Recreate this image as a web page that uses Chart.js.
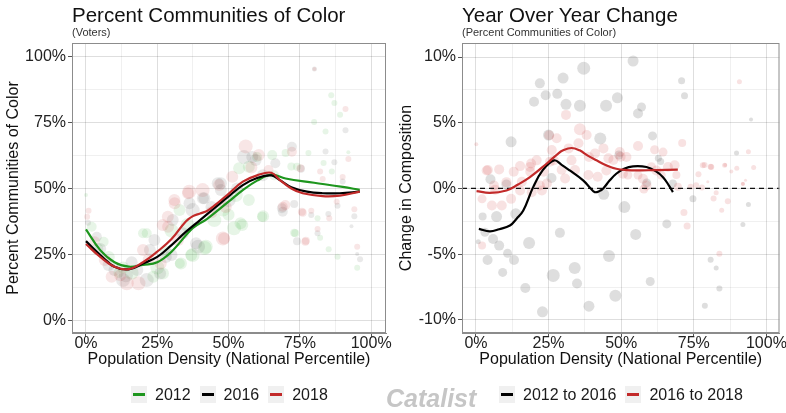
<!DOCTYPE html>
<html>
<head>
<meta charset="utf-8">
<script src="https://cdn.jsdelivr.net/npm/chart.js@4.4.1/dist/chart.umd.min.js"></script>
<style>
  body { margin: 0; background: #fff; font-family: "Liberation Sans", Arial, sans-serif; color: #111; }
  #wrap { position: relative; width: 786px; height: 413px; overflow: hidden; }
  canvas { position: absolute; top: 0; }
  #leftChart { left: 0; }
  #rightChart { left: 393px; }
  .title { position: absolute; top: 3px; font-size: 20.5px; line-height: 24px; white-space: nowrap; }
  .subtitle { position: absolute; top: 26px; font-size: 11px; line-height: 13px; color: #333; white-space: nowrap; }
  .legend { position: absolute; top: 386px; display: flex; align-items: center; font-size: 16px; line-height: 17px; color: #1a1a1a; }
  .item { display: flex; align-items: center; margin-right: 9px; }
  .key { width: 16px; height: 17px; background: #f0f0f0; position: relative; margin-right: 8px; }
  .key::after { content: ''; position: absolute; left: 2px; right: 2px; top: 7px; height: 3px; background: var(--c); }
  #logo { position: absolute; left: 386px; top: 384px; font-size: 25px; line-height: 28px; font-weight: bold; font-style: italic; color: #c6c6c6; }
</style>
</head>
<body>
<div id="wrap">
  <canvas id="leftChart" width="393" height="413"></canvas>
  <canvas id="rightChart" width="393" height="413"></canvas>
  <div class="title" style="left:72px">Percent Communities of Color</div>
  <div class="subtitle" style="left:72px">(Voters)</div>
  <div class="title" style="left:462px">Year Over Year Change</div>
  <div class="subtitle" style="left:462px">(Percent Communities of Color)</div>
  <div class="legend" style="left:131px">
    <div class="item"><span class="key" style="--c:#1e961e"></span>2012</div>
    <div class="item"><span class="key" style="--c:#000"></span>2016</div>
    <div class="item"><span class="key" style="--c:#c22a2a"></span>2018</div>
  </div>
  <div id="logo">Catalist</div>
  <div class="legend" style="left:499px">
    <div class="item"><span class="key" style="--c:#000"></span>2012 to 2016</div>
    <div class="item"><span class="key" style="--c:#c22a2a"></span>2016 to 2018</div>
  </div>
</div>
<script>
// ---- left panel: percent communities of color, points are [density, pct, size]
const pts2012 = [[0,47.5,2],[2,35.5,5],[6.2,29.8,5],[4,27,6],[8,24,6],[11.4,17.9,5],[13,20,6],[16,18,7],[20,33,5],[21.3,33,5],
  [23.6,16.5,6],[25,20,7],[27,17.7,6],[28,26,6],[30,34,7],[32.8,41.8,6],[32.9,21.5,5],[33.3,21.5,6],[35.6,36.1,7],[36.9,24.7,6],
  [37.4,24.7,7],[41.6,27.4,7],[42,27.9,7],[45,38,7],[48,42,7],[50,40,6],[51.9,34.9,7],[52.5,47.5,7],[53.7,57.7,6],[54.2,36.8,6],
  [54.8,36.1,6],[57.1,45.6,6],[57.1,58.3,6],[60,62,5],[61.8,39.3,5],[62.1,39.5,6],[65.3,62.7,5],[66,55,5],[70,63.5,4],[72,58.4,4],
  [73,33.2,4],[73.4,33,4],[74,58.3,4],[78,63.5,3],[80,75.3,3],[81.2,38.7,3],[82.1,31.3,3],[83.3,59.7,3],[84,71.7,3],[85.1,26.9,3],
  [86,85.4,3],[86.2,56.5,3],[87.1,82.5,3],[88.2,24.1,3],[89.1,78,3],[92,63.8,2],[95.1,19.9,3]];
const pts2016 = [[0.7,37,3],[3.8,31.7,5],[5,27,6],[7.9,20.9,6],[10,19,6],[13,15.2,7],[14,17,7],[16,22,6],[18,19,6],[21.3,15.2,7],
  [22.4,26.6,6],[24,30.4,6],[26,17.7,6],[28,24,6],[30,24.7,6],[30.4,38,6],[34,33,6],[36.3,44.4,6],[37.4,41.8,7],[38.6,29.2,6],
  [39.3,27.9,7],[41,46.3,6],[41.5,46.3,6],[44,43,6],[46.2,52,6],[47.3,49.4,6],[47.3,52,6],[50,45.6,7],[53,50,6],[55.4,62,7],
  [58.3,62,6],[59.5,60.8,6],[62,55,6],[66.4,59.6,5],[68.7,42.5,5],[69,41.2,5],[72.2,65.9,5],[73,44.1,4],[74,30,4],[75.4,57.5,4],
  [79,39.9,3],[81.2,33,3],[84,64.1,3],[85,40.3,3],[87.1,60,3],[88.2,43.5,3],[90,52.7,3],[91,72.1,3],[93.1,35.7,2],[94.1,39.5,3],
  [95.1,25.1,2],[96.1,23.1,3],[80.1,95.4,2.5]];
const pts2018 = [[0.4,39.3,3],[0.9,41.6,3],[3,30,5],[6.6,22.8,6],[9,16.5,6],[12,17,6],[14.3,14,7],[18.4,14,7],[20,26.6,6],[22,23,6],
  [26.2,21.5,6],[28.8,35.5,6],[28.7,39.3,6],[26.9,36.1,6],[31,45.6,6],[31.1,44.4,6],[32.3,30.4,6],[35.8,48.2,6],[36.2,48.8,7],[40.9,49.4,7],
  [44,41,6],[46.7,51.3,6],[48,31,7],[48.4,31,6],[49,43,6],[51.3,54.5,6],[56,66,7],[58,58,6],[60.6,62.7,6],[64,57,5],
  [69,43.1,5],[69.9,43.7,5],[72.2,64,5],[75.2,57.7,4],[75.7,41.2,4],[76,40.8,4],[76.9,29.8,4],[77.1,30.2,4],[79,41.6,3],[81.2,34.6,3],
  [82.1,56.5,3],[83,53.6,3],[85.3,38.7,3],[87.9,45,3],[90,54.4,3],[91,80.2,3],[92,61.2,3],[94.1,42.1,3],[95.1,27.9,3],[80.1,95.4,2]];

const fit2012 = [[0,34.5],[5,26.6],[10,22],[15,20.3],[20,21],[25,22],[30,26],[37.5,35],[42.5,38.5],[50,45],[55,49.4],[60,53],
  [65,55.3],[70,53.8],[80,52.2],[90,50.6],[96,49.5]];
const fit2016 = [[0,30],[5,24.7],[10,20.3],[15,19.3],[20,21.5],[25,24],[30,28.5],[35,33.5],[40,38],[45,42.5],[50,47],[55,51.3],
  [60,54],[65,55],[68,53.2],[72,50.5],[77.5,48.8],[83,48.2],[89,48.2],[96,48.8]];
const fit2018 = [[0,28.9],[5,24],[10,20.3],[15,19.4],[20,22],[25,26],[30,30.8],[35,37.5],[37.5,39.5],[40,40.5],[42.5,41.5],[45,43.5],
  [50,48],[55,52.6],[60,55],[65,56],[68,53.2],[72,50],[76,48.2],[83,47.1],[89,47.3],[96,48.8]];

// ---- right panel: year over year change
const chg1216 = [[37.1,9.15,6.5],[54.1,9.7,5.5],[30,8.4,5.5],[22,8,5],[24,7.1,5],[28,7.2,5],[20,6.6,5],[31,6.4,5.5],[35.8,6.3,6],[44.8,6.3,6],
  [48.7,6.9,5.5],[55.8,5.7,5],[57,6.2,4.5],[70.8,8.2,3.5],[71.8,7.06,3.5],[12.1,3.55,5.5],[25,4.06,5.5],[42.8,3.8,6],[60.8,4.0,4.5],[49.2,2.55,4.5],
  [62.8,2.3,3.5],[63.6,2.05,3.5],[26,0.8,5],[5,0.7,5],[10.5,0.3,5],[58.8,0.42,4.5],[67.8,0.38,4],[89.7,2.7,2.5],[94.7,5.25,2],[44,-0.45,5.5],
  [51.1,-1.42,6],[28.9,-3.38,5],[55,-3.5,5.5],[18.3,-4.15,6],[13.7,-1.93,5.5],[7.1,-2.14,5.5],[2.3,-2.14,4],[3.1,-3.33,4.5],[5.9,-3.84,5],[8,-4.35,5],
  [0.8,-4.05,2.5],[10.9,-4.94,4.5],[13.1,-5.45,5],[4,-5.45,5],[9.2,-6.39,4.5],[26.6,-6.62,6.5],[34,-6.06,6],[34.8,-7.23,5],[45.8,-5.14,6],[17,-7.58,5],
  [48,-8.17,6],[38.9,-8.96,5.5],[22.9,-9.39,5.5],[60,-7.08,4.5],[65.7,-2.7,4.5],[74.7,-0.79,3.5],[80.8,-5.42,3],[82.7,-6.06,2.5],[83.8,-7.61,3],[78.8,-8.93,3],
  [91.9,-2.75,2.5],[93.8,-1.22,2.5]];
const chg1618 = [[0.1,3.36,2],[4.1,1.4,5],[8,1.45,5],[13,1.27,5],[15.2,1.7,5],[19,1.9,5],[18.7,1.27,5],[23.3,1.27,5],[25.5,2.04,5],[26.1,2.92,5],
  [27.8,3.82,5],[31,5.6,5],[35.8,4.5,6],[38.1,4.07,5],[35.3,3.44,5],[31.9,3.05,5],[41,2.67,5],[43.9,3.05,5],[45.6,2.29,5],[47.3,2.16,5],
  [34.1,1.4,5],[38.7,1.02,5],[41.9,0.89,5],[30.7,0.76,5],[24.4,0.38,5],[15.8,0.51,5],[25.2,4.05,5],[20.9,2.14,5],[26.8,2.14,5],[32.9,2.14,5],
  [38.9,2.39,5],[49.5,2.77,5],[51.8,2.39,5],[18.6,1.63,5],[29.5,1.43,5],[44.9,1.37,5],[50.6,1.12,5],[57.5,0.74,5],[62.1,1.37,5],[66.1,1.63,5],
  [68.4,1.76,5],[3.7,1.37,5],[10.5,0.48,5],[6.2,0.23,5],[22,0.23,5],[58.7,0.23,5],[55.8,3.23,5],[61.5,2.95,4.5],[64.4,2.77,4.5],[71,3.46,4],
  [60.4,1.65,4.5],[63.8,1.02,4.5],[69,1.02,4],[69.5,0.13,4],[57.8,-0.05,4.5],[49.8,2.42,5],[52.3,1.02,4.5],[55.8,1.02,4.5],[2.1,-0.79,4.5],[5.5,-1.3,5],
  [8.9,-1.3,5],[12.1,-0.79,5],[2.1,-4.35,4],[6.6,-0.1,5],[15.2,-0.15,5],[19.2,-0.28,5],[22.7,-0.15,5],[90.7,8.12,2.5],[93.8,2.8,2.5],[95.6,1.6,2.5],
  [92.8,0.63,1.5],[91.9,0.33,2],[87.9,1.3,2],[89.8,1.53,2.5],[85.8,1.78,2],[78.7,1.78,3],[80.8,1.65,3],[76.6,1.09,3],[79.8,0.51,1.5],[75.8,0.25,3],
  [77.8,0.08,3],[73.9,0.13,3],[82.7,-0.33,2.5],[81.8,-0.76,3],[86.7,-0.97,3],[84.6,-1.65,2.5],[71.6,-1.83,3.5],[72.7,-2.85,3.5],[83.8,-4.96,3],[78.1,1.76,3],
  [81,1.63,3],[85.6,1.76,2.5],[91.9,0.36,2]];

const fit1216 = [[1,-3.08],[4.8,-3.26],[8,-3.1],[11.7,-2.82],[14,-2.3],[16.3,-1.68],[19.7,0.1],[23,1.4],[26.9,2.14],[29.5,1.8],
  [32.3,1.37],[36.9,0.61],[39.5,0.0],[40.9,-0.28],[42.5,-0.2],[43.8,0.0],[46,0.6],[48.3,1.12],[51,1.5],[54.1,1.68],
  [58.7,1.63],[62,1.3],[64.4,0.86],[66.5,0.2],[67.8,-0.28]];
const fit1618 = [[0.2,-0.2],[4.8,-0.33],[10.5,-0.15],[14.5,0.3],[18.6,0.86],[24.3,1.88],[28,2.6],[30,2.9],[32.9,3.08],[35.7,2.9],
  [38.5,2.5],[41.5,2.14],[45,1.75],[48.3,1.5],[52,1.4],[55.2,1.37],[62,1.4],[69.5,1.43]];

const pctTicks = [0, 12.5, 25, 37.5, 50, 62.5, 75, 87.5, 100];
const chgTicks = [-10, -7.5, -5, -2.5, 0, 2.5, 5, 7.5, 10];

const GREEN = '#1e961e';
const RED = '#c22a2a';
const FONT = '"Liberation Sans", Arial, sans-serif';

Chart.defaults.font.family = FONT;
Chart.defaults.color = '#1a1a1a';

const panelFrame = {
    id: 'panelFrame',
    afterDraw(chart) {
        const { ctx, chartArea: a } = chart;
        ctx.save();
        ctx.strokeStyle = '#8c8c8c';
        ctx.lineWidth = 1;
        ctx.strokeRect(a.left + 0.5, a.top + 0.5, a.right - a.left - 1, a.bottom - a.top - 1);
        ctx.restore();
    }
};

function bubbles(label, rows, color) {
    return {
        type: 'bubble', label, order: 10,
        data: rows.map(p => ({ x: p[0], y: p[1], r: p[2] })),
        backgroundColor: color, borderWidth: 0, hoverRadius: 0
    };
}

function fitLine(label, rows, color, order) {
    return {
        type: 'line', label, order,
        data: rows.map(p => ({ x: p[0], y: p[1] })),
        borderColor: color, borderWidth: 2.2, pointRadius: 0, tension: 0.4, fill: false
    };
}

function axis(min, max, ticks, major, title, fit, pad) {
    return {
        type: 'linear', min, max,
        afterBuildTicks: s => { s.ticks = ticks.map(v => ({ value: v })); },
        afterFit: fit,
        border: { display: true, color: '#8c8c8c' },
        grid: {
            color: c => (c.tick && c.tick.value % major === 0) ? 'rgba(0,0,0,0.13)' : 'rgba(0,0,0,0.06)',
            tickColor: c => (c.tick && c.tick.value % major === 0) ? '#555' : 'rgba(0,0,0,0)',
            tickLength: 4
        },
        ticks: {
            padding: pad,
            autoSkip: false,
            maxRotation: 0,
            minRotation: 0,
            font: { size: 16 },
            color: '#222',
            callback: v => v % major === 0 ? v + '%' : ''
        },
        title: { display: true, text: title, font: { size: 16 }, color: '#111', padding: { top: 4, bottom: 1 } }
    };
}

function makeChart(id, datasets, x, y, padRight) {
    new Chart(document.getElementById(id), {
        type: 'bubble',
        data: { datasets },
        options: {
            responsive: false,
            animation: false,
            layout: { padding: { top: 43, right: padRight, bottom: 43, left: 0 } },
            plugins: { legend: { display: false }, tooltip: { enabled: false } },
            scales: { x, y }
        },
        plugins: [panelFrame]
    });
}

const xTitle = 'Population Density (National Percentile)';

makeChart('leftChart', [
    fitLine('2018', fit2018, RED, 0),
    fitLine('2016', fit2016, '#000', 1),
    fitLine('2012', fit2012, GREEN, 2),
    bubbles('2018 points', pts2018, 'rgba(200,50,50,0.12)'),
    bubbles('2016 points', pts2016, 'rgba(70,70,70,0.12)'),
    bubbles('2012 points', pts2012, 'rgba(40,160,40,0.11)')
], axis(-4.9, 105.2, pctTicks, 25, xTitle, s => { s.height = 37; }, -3),
   axis(-4.9, 105.3, pctTicks, 25, 'Percent Communities of Color', s => { s.width = 72; }, 2), 5);

makeChart('rightChart', [
    fitLine('2016 to 2018', fit1618, RED, 0),
    fitLine('2012 to 2016', fit1216, '#000', 1),
    {
        type: 'line', label: 'zero', order: 2,
        data: [{ x: -4.8, y: 0 }, { x: 104.5, y: 0 }],
        borderColor: '#111', borderWidth: 1.3, borderDash: [5, 4], pointRadius: 0
    },
    bubbles('2016 to 2018 points', chg1618, 'rgba(205,60,60,0.15)'),
    bubbles('2012 to 2016 points', chg1216, 'rgba(90,90,90,0.2)')
], axis(-4.8, 104.5, pctTicks, 25, xTitle, s => { s.height = 37; }, -3),
   axis(-11, 11.07, chgTicks, 5, 'Change in Composition', s => { s.width = 69; }, 2), 6);
</script>
</body>
</html>
